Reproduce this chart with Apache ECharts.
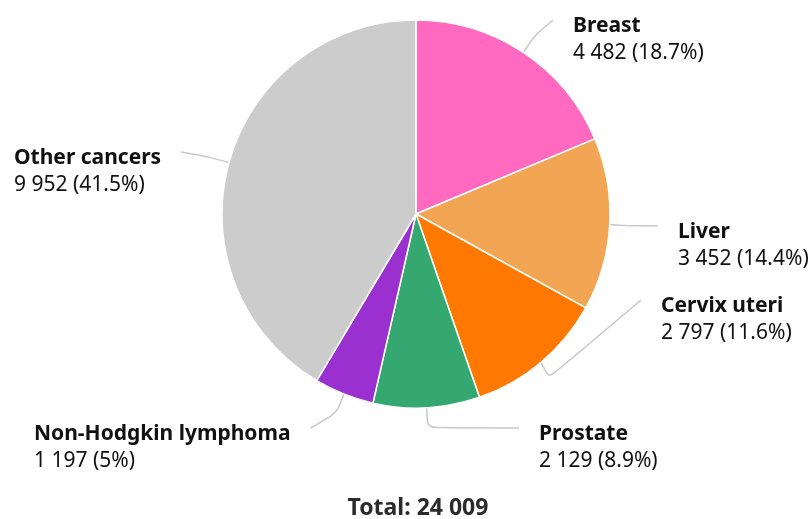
<!DOCTYPE html>
<html>
<head>
<meta charset="utf-8">
<script src="https://cdn.jsdelivr.net/npm/echarts@6/dist/echarts.min.js"></script>
<style>
  html, body { margin: 0; padding: 0; background: #fff; }
  #chart { width: 811px; height: 519px; }
</style>
</head>
<body>
<div id="chart"></div>
<script>
// cancer cases by site
const sites = ["Breast", "Liver", "Cervix uteri", "Prostate", "Non-Hodgkin lymphoma", "Other cancers"];
const cases = [4482, 3452, 2797, 2129, 1197, 9952];
const colors = ["#ff69c0", "#f2a654", "#ff7800", "#35a872", "#9b30d0", "#cccccc"];

// where each label sits (x, y of the label block, middle-left) and which side it hangs on
const labelSpots = [
  [573, 40, "r"],
  [678, 246, "r"],
  [661, 320, "r"],
  [539, 448, "r"],
  [34, 448, "l"],
  [14, 172, "l"]
];

const total = cases.reduce((a, b) => a + b, 0);

// 24009 -> "24 009"
const fmt = (n) => String(n).replace(/\B(?=(\d{3})+(?!\d))/g, " ");
const pct = (v) => +(v / total * 100).toFixed(1);

const chart = echarts.init(document.getElementById("chart"));

const option = {
  animation: false,
  graphic: [
    {
      type: "text",
      x: 418,
      y: 508,
      style: {
        text: "Total: " + fmt(total),
        align: "center",
        verticalAlign: "middle",
        fontFamily: "Noto Sans",
        fontSize: 23,
        fontWeight: "bold",
        fill: "#2b2b2b"
      }
    }
  ],
  series: [
    {
      type: "pie",
      center: [416, 214],
      radius: 194,
      startAngle: 90,
      clockwise: true,
      itemStyle: { borderColor: "#fff", borderWidth: 1.5 },
      label: {
        show: true,
        formatter: (p) => "{n|" + p.name + "}\n{v|" + fmt(p.value) + " (" + pct(p.value) + "%)}",
        rich: {
          n: { fontFamily: "Noto Sans", fontSize: 21, fontWeight: "bold", color: "#111", lineHeight: 27 },
          v: { fontFamily: "Noto Sans", fontSize: 21, color: "#111", lineHeight: 27 }
        }
      },
      labelLine: {
        show: true,
        length: 20,
        length2: 10,
        smooth: 0.2,
        lineStyle: { color: "#c8c8c8", width: 1.5 }
      },
      labelLayout: (params) => {
        const s = labelSpots[params.dataIndex];
        const out = { x: s[0], y: s[1], align: "left", verticalAlign: "middle" };
        const pts = params.labelLinePoints;
        if (pts && pts.length >= 2) {
          const w = params.labelRect.width;
          const endX = s[2] === "r" ? s[0] - 20 : s[0] + w + 20;
          out.labelLinePoints = [pts[0], pts[1], [endX, s[1] - 20]];
        }
        return out;
      },
      data: sites.map((name, i) => ({
        name: name,
        value: cases[i],
        itemStyle: { color: colors[i] }
      }))
    }
  ]
};

chart.setOption(option);
</script>
</body>
</html>
